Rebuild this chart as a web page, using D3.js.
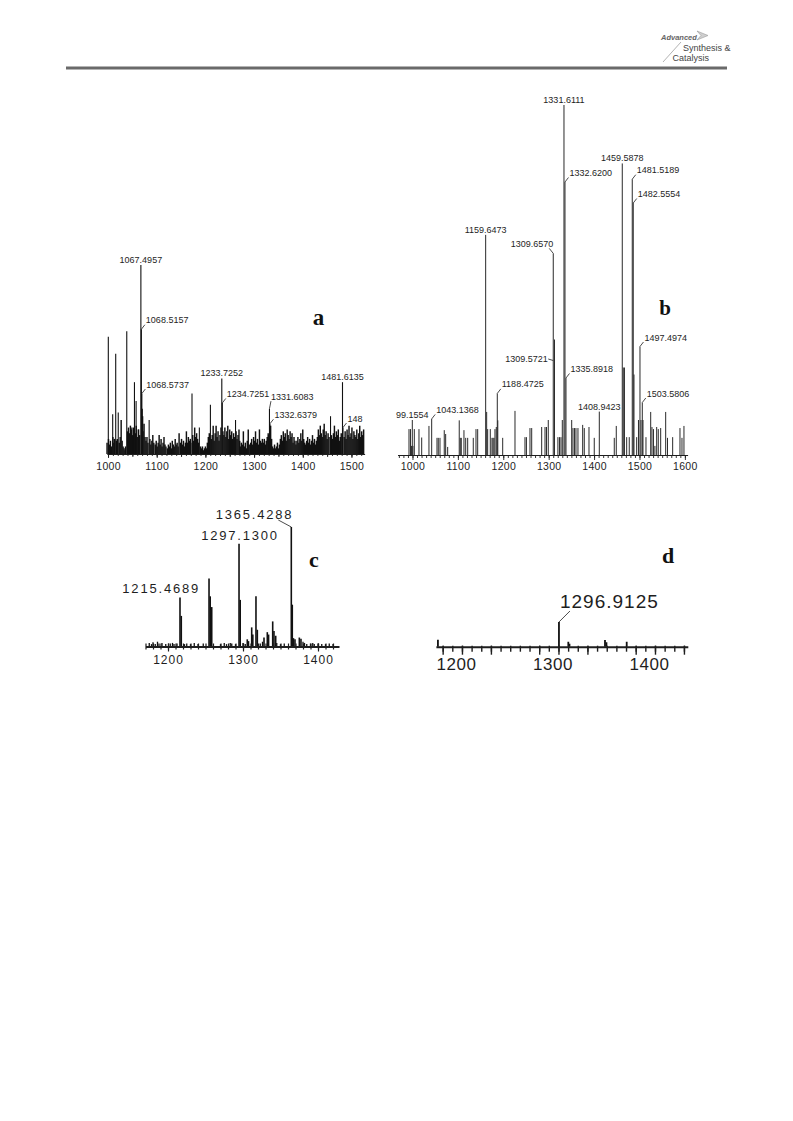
<!DOCTYPE html>
<html><head><meta charset="utf-8">
<script src="https://cdn.jsdelivr.net/npm/d3@7"></script>
<style>body{margin:0;background:#fff}svg{display:block}</style>
</head><body>
<svg id="chart" width="793" height="1121"></svg>
<script>
// ================= DATA =================
// Panel a
const aTicks = [1000, 1100, 1200, 1300, 1400, 1500];
const aPeaks = [[1000.6,62],[1009.6,21],[1015.8,53],[1021,22],[1038.5,65],[1048.8,14],[1054.3,38],[1057.7,28],[1062,13],
  [1067.5,100],[1068.5,66],[1069.5,32],[1070.4,24],[1084.5,18],[1172.5,32],[1187.6,14],[1210.3,26],[1233.7,40],[1234.7,27],
  [1261.9,18],[1331.6,24],[1332.6,16],[1457,20],[1481.6,38],[1482.6,14]];
const aNoise = [[998,6],[1001,8],[1003,5],[1005,7],[1007,4],[1010,9],[1012,6],[1013,8],[1017,7],[1019,8],[1023,6],[1025,9],
  [1027,18],[1029,7],[1031,4],[1033,3],[1035,2],[1036,4],[1040,12],[1042,14],[1044,11],[1046,15],[1048,13],[1050,10],[1052,14],
  [1053,12],[1056,11],[1058,15],[1060,9],[1062.8,13],[1065,10],[1071,20],[1072,12],[1074,16],[1076,9],[1078,7],[1080,9],[1082,6],
  [1086,8],[1088,5],[1090,7],[1092,10],[1094,6],[1097,5],[1099,7],[1101,4],[1103,6],[1105,10],[1107,5],[1109,8],[1111,4],
  [1113,6],[1115,9],[1117,5],[1119,4],[1122,3],[1124,5],[1126,4],[1128,6],[1130,3],[1132,7],[1134,5],[1136,4],[1138,8],[1140,5],
  [1142,6],[1144,4],[1146,11],[1149,6],[1151,8],[1153,5],[1155,7],[1157,4],[1159,6],[1161,12],[1163,6],[1165,9],[1167,7],
  [1169,8],[1170,6],[1174,10],[1176,7],[1178,14],[1180,9],[1182,11],[1184,8],[1186,6],[1190,4],[1192,3],[1194,4],[1196,2],
  [1198,3],[1200,4],[1202,3],[1204,6],[1206,9],[1208,11],[1212,8],[1214,10],[1216,15],[1218,7],[1220,11],[1222,15],[1224,9],
  [1226,12],[1228,7],[1230,10],[1232,14],[1236,12],[1238,10],[1240,14],[1242,9],[1244,12],[1246,15],[1248,8],[1250,13],
  [1252,10],[1254,12],[1256,8],[1258,11],[1260,9],[1263,12],[1265,8],[1267,10],[1269,13],[1270.5,7],[1272,4],[1274,6],
  [1276,5],[1278,12],[1280,4],[1282,6],[1284,3],[1286,7],[1288,13],[1290,5],[1293,6],[1295,8],[1297,5],[1299,9],[1301,7],
  [1303,12],[1305,6],[1307,8],[1309,5],[1311,13],[1313,7],[1315,6],[1317,8],[1319,6],[1321,8],[1323,5],[1325,7],[1327,9],
  [1329,11],[1330,10],[1334,15],[1336,8],[1338,4],[1340,3],[1342,5],[1344,3],[1346,4],[1348,6],[1350,3],[1352,5],[1354,8],
  [1356,10],[1358,7],[1360,12],[1362,9],[1364,11],[1366,7],[1368,13],[1370,10],[1372,8],[1374,12],[1376,9],[1378,11],
  [1380,6],[1382,9],[1384,7],[1386,5],[1388,7],[1390,9],[1392,6],[1394,8],[1396,11],[1398,7],[1400,13],[1402,8],[1404,6],
  [1406,5],[1408,7],[1410,9],[1412,6],[1414,8],[1416,5],[1418,7],[1420,10],[1422,6],[1424,8],[1426,5],[1428,7],[1430,9],
  [1432,13],[1434,10],[1436,15],[1438,11],[1440,9],[1442,13],[1444,16],[1446,10],[1448,12],[1450,8],[1452,11],[1454,9],
  [1459,10],[1461,8],[1463,11],[1465,15],[1467,9],[1469,12],[1471,10],[1473,13],[1475,7],[1477,9],[1479,11],[1485,9],
  [1487,12],[1489,8],[1491,13],[1493,10],[1495,15],[1497,9],[1499,11],[1501,14],[1503,8],[1505,12],[1507,10],[1509,9],
  [1511,13],[1513,8],[1515,11],[1517,15],[1519,9],[1521,12],[1523,10],[1525,13]];
const aLabels = [["1067.4957",1067.5,100,"top"],["1068.5157",1068.5,66,"right"],["1068.5737",1069.5,32,"right"],
  ["1233.7252",1233.7,40,"top"],["1234.7251",1234.7,27,"right"],["1331.6083",1331.6,24,"rise"],
  ["1332.6379",1332.6,16,"right"],["1481.6135",1481.6,38,"top"],["148",1482.6,14,"right"]];

// Panel b
const bTicks = [1000, 1100, 1200, 1300, 1400, 1500, 1600];
const bPeaks = [[992.3,7.4],[995.6,7.4],[998,2.6],[999.6,10],[1001,2.6],[1004,7.4],[1014.3,7.4],[1020.3,5],[1036.3,8.3],
  [1042.3,10.3],[1054,4.9],[1056.8,4.9],[1060.6,4.9],[1070,7.1],[1073.1,6],[1077.5,2.3],[1103,9.9],[1105.3,4.9],[1107.5,4.9],
  [1113.4,7.1],[1117.2,4.9],[1121.6,4.9],[1133.9,4.9],[1139.9,7.4],[1143.6,7.4],[1161.2,62.9],[1163.4,12.3],[1165.6,7.4],
  [1171.4,7.4],[1175.1,4.9],[1177.3,4.9],[1179.5,4.9],[1181.7,7.4],[1184.6,8],[1186.8,17.6],[1187.9,9.9],[1198.7,4.9],
  [1225.8,12.6],[1247.8,5.1],[1251,5.1],[1258.8,7.7],[1262.6,7.7],[1284.6,8],[1291.9,8],[1295.2,8],[1299.1,10],[1310.1,57.6],
  [1312.8,33],[1320.3,5.1],[1323.8,5.1],[1327.1,5.1],[1330,10],[1333.7,100],[1335.9,78],[1338.1,22],[1350.7,10],[1353.5,7.7],
  [1356.8,7.7],[1360.1,7.7],[1364.5,7.7],[1374.9,8.6],[1378.4,7.7],[1388.8,8],[1400.4,4.9],[1411.5,12.4],[1444.5,4.9],
  [1448.9,8.3],[1462.1,83.3],[1464.3,25],[1466.9,25],[1471.8,5.1],[1477.5,5.1],[1484.1,78.8],[1486.3,72],[1487.9,23],
  [1493.8,5.1],[1497.8,10],[1501.1,31],[1503.3,10],[1506.2,15],[1507.7,10],[1514.3,5.1],[1524.7,12.3],[1527.5,8],
  [1530.8,7.4],[1534,2.6],[1537.9,8],[1541.4,7.4],[1546.7,7.7],[1557.7,12.3],[1561.7,4.9],[1573.1,5.1],[1589.2,7.7],
  [1593.6,4.9],[1598,8.3]];
const bLabels = [["1331.6111",1333.7,100,"top"],["1332.6200",1335.9,78,"right"],["1459.5878",1462.1,83.3,"top"],
  ["1481.5189",1484.1,78.8,"right"],["1482.5554",1486.3,72,"right"],["1159.6473",1161.2,62.9,"top"],
  ["1309.6570",1310.1,57.6,"left"],["1309.5721",1310.1,27,"dash"],["1335.8918",1338.1,22,"right"],
  ["1188.4725",1186.8,17.6,"right"],["1408.9423",1411.5,12.4,"top"],["1497.4974",1501.1,31,"right"],
  ["1503.5806",1506.2,15,"right"],["99.1554",999.6,10,"top"],["1043.1368",1042.3,10.3,"right"]];

// Panel c
const cTicks = [1200, 1300, 1400];
const cPeaks = [[1216,41],[1217.7,25.6],[1254.7,57],[1256.3,42],[1258.3,33],[1294.7,86],[1296.3,39],[1305.7,6],[1307.3,4.5],
  [1311.6,16],[1313.1,10],[1317.3,42],[1319.1,14],[1328,7.5],[1332.4,12],[1334.1,10],[1339.6,21],[1341.3,13],[1343.6,9],
  [1364.4,100],[1365.7,35],[1367.3,7],[1369.3,6],[1375.1,7.5],[1377.3,6.5]];
const cNoise = [[1175,3],[1178,2],[1180,3.5],[1183,2],[1186,4],[1188,2.5],[1192,3],[1197,2],[1203,2.5],[1206,3],[1208,2],
  [1212,2.5],[1222,2],[1225,2.5],[1230,2],[1235,3],[1240,2],[1247,2.5],[1270,2],[1275,3],[1278,2],[1283,3],[1285,2.5],
  [1290,2],[1300,3],[1303,2],[1323,2.5],[1326,4],[1345,3],[1350,2],[1355,2.5],[1380,4],[1382,3],[1385,2],[1390,2.5],
  [1393,3],[1395,2],[1400,2.5],[1405,2],[1410,2],[1415,2.5],[1420,2]];
const cLabels = [["1215.4689",1216,41,"over"],["1297.1300",1294.7,86,"topBig"],["1365.4288",1364.4,100,"hook"]];

// Panel d
const dTicks = [1200, 1300, 1400];
const dPeaks = [[1175.1,28],[1300.5,100],[1310.2,20],[1311.4,12],[1348.2,27],[1349.7,18],[1370.7,20]];
const dLabels = [["1296.9125",1300.5,100,"diag"]];

// ================= DRAWING =================
const SANS = "'Liberation Sans', Arial, Helvetica, sans-serif";
const SERIF = "'Liberation Serif', 'Times New Roman', serif";
const INK = "#1e1e1e";

const svg = d3.select("#chart");
svg.append("rect").attr("width", 793).attr("height", 1121).attr("fill", "#fff");

// ---- header ----
const hdr = svg.append("g");
hdr.append("rect").attr("x", 66).attr("y", 66.5).attr("width", 661).attr("height", 3).attr("fill", "#6a6a6a");
hdr.append("line").attr("x1", 663).attr("y1", 62).attr("x2", 681).attr("y2", 42).attr("stroke", "#a0a0a0").attr("stroke-width", 0.8);
hdr.append("text").attr("x", 661).attr("y", 39.5).attr("font-family", SANS).attr("font-style", "italic")
  .attr("font-weight", "bold").attr("font-size", 7.5).attr("fill", "#666").text("Advanced");
hdr.append("path").attr("d", "M697,31 L708,35.5 L697,40 L701,35.5 Z").attr("fill", "#cfcfcf").attr("stroke", "#9a9a9a").attr("stroke-width", 0.6);
hdr.append("text").attr("x", 683).attr("y", 50.5).attr("font-family", SANS).attr("font-size", 9)
  .attr("fill", "#444").text("Synthesis &");
hdr.append("text").attr("x", 672.5).attr("y", 61).attr("font-family", SANS).attr("font-size", 9)
  .attr("fill", "#444").text("Catalysis");

const labelKinds = {
  top:    {anchor: "middle", tx: 0,   ty: -2,   leader: null},
  right:  {anchor: "start",  tx: 4.5, ty: -6,   leader: [[0,0],[3.5,-4.5]]},
  rise:   {anchor: "start",  tx: 1.5, ty: -9,   leader: [[0,0],[1.5,-7.5]]},
  left:   {anchor: "end",    tx: 0,   ty: -6.5, leader: [[0,0],[-4,-5]]},
  dash:   {anchor: "end",    tx: -5.5,ty: 1,    leader: [[0,0],[-5,-1.5]]},
  over:   {anchor: "end",    tx: 20,  ty: -5,   leader: null},
  topBig: {anchor: "middle", tx: 1,   ty: -4,   leader: null},
  hook:   {anchor: "end",    tx: 2,   ty: -8,   leader: [[-13,-7],[0,0]]},
  diag:   {anchor: "start",  tx: 1,   ty: -14,  leader: [[0,0],[11,-11]]}
};

function drawPanel(p) {
  const x = d3.scaleLinear().domain(p.domain).range(p.range);
  const y = d3.scaleLinear().domain([0, 100]).range([p.base, p.top]);
  const g = svg.append("g");

  p.series.forEach(s => {
    g.append("g").selectAll("line").data(s.data).join("line")
      .attr("x1", d => x(d[0])).attr("x2", d => x(d[0]))
      .attr("y1", p.base).attr("y2", d => y(d[1]))
      .attr("stroke", s.color).attr("stroke-width", s.width);
  });

  // minor ticks
  const minor = g.append("g").attr("transform", `translate(0,${p.base})`)
    .call(d3.axisBottom(x).tickValues(d3.range(p.minorFrom, p.domain[1], p.minorStep))
      .tickSize(p.minorLen).tickSizeOuter(0).tickFormat(""));
  minor.select(".domain").remove();
  minor.selectAll(".tick line").attr("stroke", INK).attr("stroke-width", p.tickWidth).attr("y1", p.minorUp || 0);
  if (p.midStep) {
    const mid = g.append("g").attr("transform", `translate(0,${p.base})`)
      .call(d3.axisBottom(x).tickValues(d3.range(p.minorFrom, p.domain[1], p.midStep))
        .tickSize(p.midLen).tickSizeOuter(0).tickFormat(""));
    mid.select(".domain").remove();
    mid.selectAll(".tick line").attr("stroke", INK).attr("stroke-width", p.tickWidth).attr("y1", p.minorUp || 0);
  }
  // major ticks + labels
  const ax = g.append("g").attr("transform", `translate(0,${p.base})`)
    .call(d3.axisBottom(x).tickValues(p.ticks).tickSize(p.majorLen).tickSizeOuter(0).tickFormat(d3.format("d")));
  ax.select(".domain").attr("stroke", INK).attr("stroke-width", p.axisWidth);
  ax.selectAll(".tick line").attr("stroke", INK).attr("stroke-width", p.tickWidth).attr("y1", p.minorUp || 0);
  ax.selectAll(".tick text").attr("dy", null).attr("y", p.labelY).attr("dx", p.labelDx || 0)
    .attr("font-family", SANS).attr("font-size", p.tickFont).attr("letter-spacing", p.tickSpacing || 0)
    .attr("fill", INK);

  // peak labels
  const lg = g.append("g");
  p.labels.forEach(([text, mz, inten, kind]) => {
    const k = labelKinds[kind];
    const px = x(mz), py = y(inten);
    if (k.leader) {
      lg.append("polyline").attr("points", k.leader.map(([dx, dy]) => `${px + dx},${py + dy}`).join(" "))
        .attr("fill", "none").attr("stroke", INK).attr("stroke-width", 0.8);
    }
    lg.append("text").attr("x", px + k.tx).attr("y", py + k.ty).attr("text-anchor", k.anchor)
      .attr("font-family", SANS).attr("font-size", p.labelFont).attr("letter-spacing", p.labelSpacing || 0)
      .attr("fill", INK).text(text);
  });

  // panel letter
  g.append("text").attr("x", p.letter[1]).attr("y", p.letter[2]).attr("text-anchor", "middle")
    .attr("font-family", SERIF).attr("font-weight", "bold").attr("font-size", p.letter[3])
    .attr("fill", "#111").text(p.letter[0]);
}

drawPanel({
  domain: [997.5, 1527], range: [106.8, 364.6], base: 454, top: 265,
  series: [{data: aNoise, color: "#111", width: 1.45}, {data: aPeaks, color: "#111", width: 1.1}],
  ticks: aTicks, minorFrom: 1000, minorStep: 10, minorLen: 2, midStep: 50, midLen: 3, majorLen: 4,
  axisWidth: 1.2, tickWidth: 0.9, labelY: 16, tickFont: 10.5, tickSpacing: 0.3,
  labels: aLabels, labelFont: 9, letter: ["a", 318.5, 325, 23]
});

drawPanel({
  domain: [967, 1606], range: [397.5, 687.6], base: 455, top: 105,
  series: [{data: bPeaks, color: "#2a2a2a", width: 1}],
  ticks: bTicks, minorFrom: 970, minorStep: 10, minorLen: 3, majorLen: 5,
  axisWidth: 1.1, tickWidth: 0.9, labelY: 15, tickFont: 10.5, tickSpacing: 0.3,
  labels: bLabels, labelFont: 9, letter: ["b", 665, 315, 21]
});

drawPanel({
  domain: [1170, 1428], range: [145.5, 339], base: 646.5, top: 527,
  series: [{data: cNoise, color: "#111", width: 1.3}, {data: cPeaks, color: "#111", width: 1.6}],
  ticks: cTicks, minorFrom: 1170, minorStep: 10, minorLen: 3, minorUp: -3, majorLen: 5,
  axisWidth: 2, tickWidth: 1.2, labelY: 17.5, tickFont: 12, tickSpacing: 1,
  labels: cLabels, labelFont: 13, labelSpacing: 1.8, letter: ["c", 314, 567, 22]
});

drawPanel({
  domain: [1173, 1434], range: [435.9, 687.8], base: 646.7, top: 622,
  series: [{data: dPeaks, color: "#111", width: 1.8}],
  ticks: dTicks, minorFrom: 1180, minorStep: 10, minorLen: 5, minorUp: -1, midStep: 50, midLen: 8, majorLen: 8,
  axisWidth: 2, tickWidth: 1.4, labelY: 23, labelDx: -6, tickFont: 17, tickSpacing: 0.5,
  labels: dLabels, labelFont: 19, labelSpacing: 1, letter: ["d", 668, 563, 22]
});
</script>
</body></html>
